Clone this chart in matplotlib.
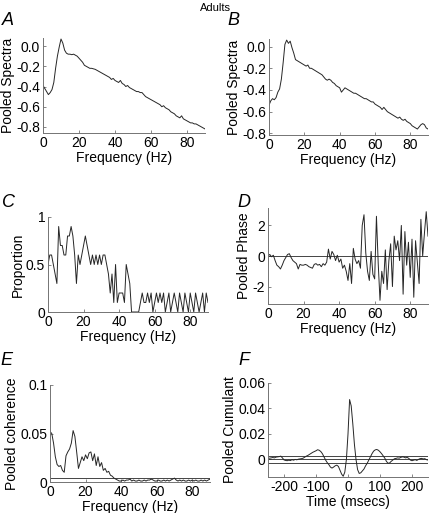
import numpy as np
import matplotlib
matplotlib.use("Agg")
import matplotlib.pyplot as plt

plt.rcParams['font.family'] = ['Liberation Sans', 'DejaVu Sans']
plt.rcParams['font.size'] = 10
plt.rcParams['axes.unicode_minus'] = False

# frequency axis (Hz) shared by panels A-E
freq = np.arange(0, 91)

# A: pooled spectra (log)
spec_a = [-0.39, -0.42, -0.45, -0.48, -0.46, -0.43, -0.36, -0.22, -0.10, -0.01,
          0.07, 0.03, -0.04, -0.07, -0.08, -0.08, -0.085, -0.08, -0.09, -0.10,
          -0.12, -0.14, -0.16, -0.19, -0.20, -0.21, -0.22, -0.22, -0.225, -0.23,
          -0.24, -0.25, -0.26, -0.27, -0.28, -0.29, -0.30, -0.31, -0.33, -0.32,
          -0.34, -0.35, -0.36, -0.34, -0.37, -0.38, -0.40, -0.39, -0.41, -0.42,
          -0.43, -0.44, -0.45, -0.45, -0.46, -0.46, -0.48, -0.50, -0.51, -0.52,
          -0.53, -0.54, -0.55, -0.56, -0.57, -0.58, -0.60, -0.59, -0.61, -0.62,
          -0.63, -0.65, -0.66, -0.67, -0.69, -0.70, -0.71, -0.69, -0.72, -0.73,
          -0.74, -0.75, -0.76, -0.76, -0.77, -0.77, -0.78, -0.79, -0.80, -0.81,
          -0.82]

# B: pooled spectra (log)
spec_b = [-0.54, -0.50, -0.48, -0.49, -0.47, -0.42, -0.39, -0.30, -0.15, 0.02,
          0.06, 0.03, 0.05, -0.01, -0.06, -0.12, -0.13, -0.14, -0.15, -0.16,
          -0.17, -0.18, -0.17, -0.20, -0.20, -0.21, -0.22, -0.23, -0.24, -0.25,
          -0.26, -0.28, -0.30, -0.31, -0.30, -0.31, -0.33, -0.34, -0.36, -0.37,
          -0.38, -0.42, -0.40, -0.38, -0.39, -0.40, -0.41, -0.42, -0.43, -0.43,
          -0.44, -0.45, -0.46, -0.47, -0.48, -0.48, -0.49, -0.50, -0.51, -0.51,
          -0.53, -0.54, -0.55, -0.56, -0.58, -0.56, -0.58, -0.60, -0.61, -0.62,
          -0.63, -0.64, -0.65, -0.66, -0.65, -0.67, -0.68, -0.67, -0.69, -0.70,
          -0.71, -0.73, -0.74, -0.75, -0.76, -0.74, -0.72, -0.71, -0.72, -0.75,
          -0.76]

# C: proportion of significant pairs
prop_c = [0.5, 0.6, 0.6, 0.5, 0.4, 0.3, 0.9, 0.7, 0.7, 0.6,
          0.6, 0.8, 0.8, 0.9, 0.8, 0.6, 0.3, 0.6, 0.5, 0.6,
          0.7, 0.8, 0.7, 0.6, 0.5, 0.6, 0.5, 0.6, 0.5, 0.6,
          0.5, 0.6, 0.6, 0.5, 0.4, 0.2, 0.4, 0.1, 0.5, 0.1,
          0.2, 0.2, 0.2, 0.1, 0.5, 0.4, 0.3, 0.0, 0.0, 0.0,
          0.0, 0.0, 0.1, 0.2, 0.1, 0.1, 0.2, 0.1, 0.2, 0.0,
          0.1, 0.2, 0.1, 0.2, 0.1, 0.2, 0.0, 0.1, 0.2, 0.0,
          0.1, 0.2, 0.1, 0.0, 0.2, 0.1, 0.0, 0.2, 0.1, 0.0,
          0.2, 0.1, 0.0, 0.2, 0.1, 0.0, 0.1, 0.2, 0.0, 0.2,
          0.1]

# D: pooled phase (rad)
phase_d = [0.0, 0.1, -0.05, 0.05, -0.3, -0.6, -0.7, -0.85, -0.6, -0.3,
           -0.1, 0.1, 0.15, -0.1, -0.3, -0.4, -0.5, -0.85, -0.55, -0.6,
           -0.6, -0.55, -0.6, -0.7, -0.75, -0.8, -0.55, -0.5, -0.6, -0.55,
           -0.7, -0.5, -0.6, -0.4, 0.45, -0.2, 0.3, 0.1, -0.3, 0.05,
           -0.4, -0.2, -0.8, -0.6, -1.0, -1.6, -0.5, -1.8, 0.5, -0.2,
           -0.5, -0.3, -0.8, 2.0, 2.7, 0.2, -1.0, -1.6, 0.3, -1.2,
           -1.5, 2.6, -0.5, -2.9, -1.0, -1.8, 0.4, -2.2, -0.3, 0.8,
           -2.0, 1.3, 0.4, 1.0, -0.3, 2.0, -2.5, 1.6, -0.6, 0.9,
           -1.4, 1.1, -2.7, 1.0, -0.4, -1.8, 2.4, 0.0, 1.5, 2.9,
           1.3]

# E: pooled coherence
coh_e = [0.052, 0.050, 0.040, 0.026, 0.018, 0.016, 0.017, 0.012, 0.010, 0.027,
         0.031, 0.034, 0.040, 0.053, 0.047, 0.031, 0.014, 0.020, 0.026, 0.022,
         0.028, 0.024, 0.030, 0.031, 0.022, 0.029, 0.017, 0.026, 0.016, 0.020,
         0.012, 0.014, 0.010, 0.011, 0.007, 0.006, 0.004, 0.003, 0.002, 0.001,
         0.001, 0.002, 0.001, 0.002, 0.002, 0.003, 0.001, 0.002, 0.001, 0.001,
         0.002, 0.001, 0.001, 0.002, 0.001, 0.002, 0.002, 0.003, 0.002, 0.001,
         0.001, 0.002, 0.001, 0.001, 0.002, 0.001, 0.002, 0.001, 0.002, 0.003,
         0.004, 0.002, 0.001, 0.002, 0.001, 0.002, 0.001, 0.001, 0.002, 0.001,
         0.002, 0.001, 0.002, 0.001, 0.001, 0.002, 0.001, 0.002, 0.001, 0.002,
         0.003]
coh_limit = 0.004

# F: pooled cumulant vs time lag (ms)
lag = np.arange(-250, 251, 5)
cum_f = [0.0008, 0.0010, 0.0012, 0.0015, 0.0012, 0.0018, 0.0020, 0.0022, 0.0026, 0.0012,
         -0.0004, -0.0008, -0.0010, -0.0006, -0.0009, -0.0002, -0.0006, 0.0000, -0.0003, 0.0002,
         0.0004, 0.0006, 0.0010, 0.0018, 0.0026, 0.0032, 0.0040, 0.0048, 0.0056, 0.0062,
         0.0068, 0.0076, 0.0072, 0.0062, 0.0045, 0.0020, -0.0005, -0.0025, -0.0040, -0.0060,
         -0.0068, -0.0060, -0.0050, -0.0045, -0.0055, -0.0085, -0.0115, -0.0132, -0.0100, 0.0000,
         0.0200, 0.0470, 0.0420, 0.0280, 0.0120, 0.0000, -0.0080, -0.0110, -0.0105, -0.0090,
         -0.0075, -0.0050, -0.0030, -0.0005, 0.0020, 0.0045, 0.0065, 0.0075, 0.0078, 0.0072,
         0.0060, 0.0045, 0.0028, 0.0010, -0.0015, -0.0030, -0.0028, -0.0015, -0.0005, 0.0005,
         0.0008, 0.0012, 0.0010, 0.0016, 0.0020, 0.0018, 0.0012, 0.0016, 0.0008, -0.0005,
         -0.0010, -0.0006, -0.0002, -0.0008, 0.0000, 0.0006, 0.0008, 0.0004, 0.0006, -0.0002,
         -0.0005]
cum_limit = 0.0025

W, H = 429, 513
fig = plt.figure(figsize=(W / 100, H / 100), dpi=100)


def make_axes(left, right, top, bottom):
    # pixel box -> figure fraction
    ax = fig.add_axes([left / W, 1 - bottom / H, (right - left) / W, (bottom - top) / H])
    for side in ['top', 'right']:
        ax.spines[side].set_visible(False)
    for side in ['left', 'bottom']:
        ax.spines[side].set_color('0.45')
        ax.spines[side].set_linewidth(0.7)
    ax.tick_params(direction='in', length=2.5, width=0.6, color='0.45', pad=2, labelsize=10)
    return ax


def labels(ax, xl, yl):
    ax.set_xlabel(xl, labelpad=1)
    ax.set_ylabel(yl, labelpad=1)


line_kw = dict(color='0.15', lw=0.7)

# A
ax = make_axes(43, 205, 38, 133)
ax.plot(freq, spec_a, **line_kw)
ax.set_xlim(0, 90)
ax.set_ylim(-0.86, 0.08)
ax.set_xticks([0, 20, 40, 60, 80])
ax.set_yticks([0, -0.2, -0.4, -0.6, -0.8])
labels(ax, 'Frequency (Hz)', 'Pooled Spectra')

# B
ax = make_axes(269, 428, 39, 135)
ax.plot(freq, spec_b, **line_kw)
ax.set_xlim(0, 90)
ax.set_ylim(-0.815, 0.07)
ax.set_xticks([0, 20, 40, 60, 80])
ax.set_yticks([0, -0.2, -0.4, -0.6, -0.8])
labels(ax, 'Frequency (Hz)', 'Pooled Spectra')

# C
ax = make_axes(48, 208, 217, 312)
ax.plot(freq, prop_c, **line_kw)
ax.set_xlim(0, 90)
ax.set_ylim(0, 1)
ax.set_xticks([0, 20, 40, 60, 80])
ax.set_yticks([0, 0.5, 1])
ax.set_yticklabels(['0', '0.5', '1'])
labels(ax, 'Frequency (Hz)', 'Proportion')

# D
ax = make_axes(268, 428, 208, 304)
ax.plot(freq, phase_d, **line_kw)
ax.axhline(0, color='0.15', lw=0.6)
ax.set_xlim(0, 90)
ax.set_ylim(-np.pi, np.pi)
ax.set_xticks([0, 20, 40, 60, 80])
ax.set_yticks([-2, 0, 2])
labels(ax, 'Frequency (Hz)', 'Pooled Phase')

# E
ax = make_axes(50, 210, 385, 482)
ax.plot(freq, coh_e, **line_kw)
ax.axhline(coh_limit, color='0.15', lw=0.6)
ax.set_xlim(0, 90)
ax.set_ylim(0, 0.1)
ax.set_xticks([0, 20, 40, 60, 80])
ax.set_yticks([0, 0.05, 0.1])
ax.set_yticklabels(['0', '0.05', '0.1'])
labels(ax, 'Frequency (Hz)', 'Pooled coherence')

# F
ax = make_axes(268, 428, 383, 477)
ax.plot(lag, cum_f, **line_kw)
for yv in [0, cum_limit, -cum_limit]:
    ax.axhline(yv, color='0.15', lw=0.6)
ax.set_xlim(-250, 250)
ax.set_ylim(-0.0138, 0.06)
ax.set_xticks([-200, -100, 0, 100, 200])
ax.set_yticks([0, 0.02, 0.04, 0.06])
ax.set_yticklabels(['0', '0.02', '0.04', '0.06'])
labels(ax, 'Time (msecs)', 'Pooled Cumulant')

# panel letters and title
letters = {'A': (2, 12), 'B': (227, 12), 'C': (2, 194), 'D': (237, 194), 'E': (0, 352), 'F': (238, 352)}
for txt, (px, py) in letters.items():
    fig.text(px / W, 1 - py / H, txt, fontsize=13, style='italic', ha='left', va='top')
fig.text(215 / W, 1 - 3 / H, 'Adults', fontsize=8, ha='center', va='top')

fig.savefig('out.png', dpi=100)
